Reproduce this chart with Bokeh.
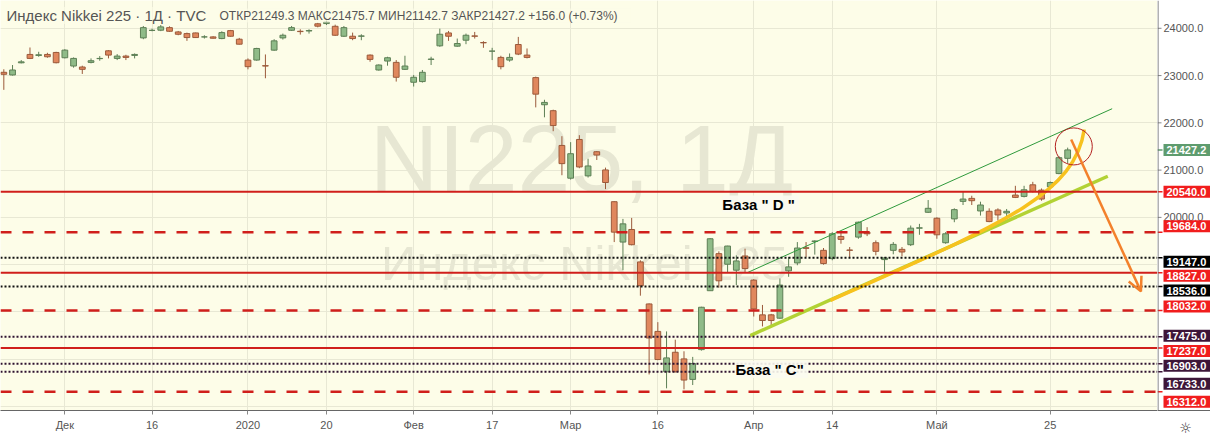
import numpy as np
from bokeh.plotting import figure
from bokeh.layouts import row
from bokeh.models import (Span, Label, FixedTicker, Arrow, OpenHead, ColumnDataSource, Range1d)
from bokeh.embed import file_html
from bokeh.resources import INLINE
from bokeh.core.properties import value

# ---------------- data ----------------
dates = [
    "2019-11-21", "2019-11-22", "2019-11-25", "2019-11-26", "2019-11-27", "2019-11-28", "2019-11-29",
    "2019-12-02", "2019-12-03", "2019-12-04", "2019-12-05", "2019-12-06", "2019-12-09", "2019-12-10",
    "2019-12-11", "2019-12-12", "2019-12-13", "2019-12-16", "2019-12-17", "2019-12-18", "2019-12-19",
    "2019-12-20", "2019-12-23", "2019-12-24", "2019-12-25", "2019-12-26", "2019-12-27", "2019-12-30",
    "2020-01-06", "2020-01-07", "2020-01-08", "2020-01-09", "2020-01-10", "2020-01-14", "2020-01-15",
    "2020-01-16", "2020-01-17", "2020-01-20", "2020-01-21", "2020-01-22", "2020-01-23", "2020-01-24",
    "2020-01-27", "2020-01-28", "2020-01-29", "2020-01-30", "2020-01-31", "2020-02-03", "2020-02-04",
    "2020-02-05", "2020-02-06", "2020-02-07", "2020-02-10", "2020-02-12", "2020-02-13", "2020-02-14",
    "2020-02-17", "2020-02-18", "2020-02-19", "2020-02-20", "2020-02-21", "2020-02-25", "2020-02-26",
    "2020-02-27", "2020-02-28", "2020-03-02", "2020-03-03", "2020-03-04", "2020-03-05", "2020-03-06",
    "2020-03-09", "2020-03-10", "2020-03-11", "2020-03-12", "2020-03-13", "2020-03-16", "2020-03-17",
    "2020-03-18", "2020-03-19", "2020-03-23", "2020-03-24", "2020-03-25", "2020-03-26", "2020-03-27",
    "2020-03-30", "2020-03-31", "2020-04-01", "2020-04-02", "2020-04-03", "2020-04-06", "2020-04-07",
    "2020-04-08", "2020-04-09", "2020-04-10", "2020-04-13", "2020-04-14", "2020-04-15", "2020-04-16",
    "2020-04-17", "2020-04-20", "2020-04-21", "2020-04-22", "2020-04-23", "2020-04-24", "2020-04-27",
    "2020-04-28", "2020-04-30", "2020-05-01", "2020-05-07", "2020-05-08", "2020-05-11", "2020-05-12",
    "2020-05-13", "2020-05-14", "2020-05-15", "2020-05-18", "2020-05-19", "2020-05-20", "2020-05-21",
    "2020-05-22", "2020-05-25", "2020-05-26", "2020-05-27",
]

opens = [
    23069, 23013, 23270, 23447, 23426, 23447, 23489, 23377, 23202, 23181, 23279, 23358, 23524, 23363,
    23412, 23426, 23797, 23955, 23960, 24014, 23923, 23888, 23902, 23818, 23818, 23783, 23951, 23769,
    23328, 23328, 23209, 23538, 23797, 23958, 23937, 23944, 24095, 24100, 24042, 23832, 23832, 23832,
    23433, 23118, 23307, 23279, 23132, 22859, 22873, 23342, 23629, 23902, 23622, 23748, 23839, 23699,
    23517, 23384, 23328, 23657, 23433, 22957, 22383, 22257, 21522, 20829, 21648, 20878, 21389, 21004,
    20332, 19478, 19744, 19058, 18169, 17588, 16734, 17147, 17007, 16573, 17203, 18449, 19233, 19009,
    18883, 19184, 18673, 17938, 17938, 17868, 18869, 19037, 19358, 19492, 19303, 19128, 19597, 19310,
    19583, 19688, 19464, 19107, 19303, 19324, 19422, 19772, 20108, 19982, 19464, 19968, 20339, 20402,
    20136, 20129, 20157, 20094, 20472, 20444, 20689, 20577, 20647, 20927, 21249.3,
]
highs = [
    23133, 23223, 23328, 23594, 23503, 23482, 23503, 23559, 23384, 23209, 23363, 23412, 23538, 23454,
    23440, 23468, 24049, 23993, 24070, 24042, 23944, 23909, 23909, 23853, 23832, 23937, 23965, 23797,
    23363, 23587, 23447, 23769, 23888, 24049, 23979, 23979, 24115, 24160, 24077, 24049, 23909, 23874,
    23447, 23237, 23398, 23328, 23419, 23013, 23118, 23398, 23993, 23944, 23783, 23888, 23923, 23727,
    23587, 23419, 23468, 23818, 23573, 22978, 22488, 22278, 21718, 21592, 21739, 21242, 21403, 21053,
    20340, 19968, 19989, 19093, 18180, 17784, 17588, 17413, 17168, 17049, 18110, 19562, 19282, 19400,
    19198, 19338, 18694, 18148, 17959, 18708, 19163, 19478, 19478, 19515, 19352, 19688, 19688, 19373,
    19912, 19793, 19513, 19163, 19478, 19373, 19828, 19863, 20367, 20003, 19688, 20192, 20542, 20458,
    20332, 20192, 20192, 20178, 20668, 20668, 20752, 20612, 20759, 21298, 21475.7,
]
lows = [
    22698, 23000, 23258, 23349, 23398, 23377, 23258, 23363, 23167, 23034, 23258, 23314, 23363, 23328,
    23328, 23363, 23769, 23937, 23940, 23923, 23853, 23734, 23797, 23783, 23783, 23769, 23825, 23657,
    23132, 23314, 22943, 23524, 23762, 23944, 23867, 23888, 24020, 24070, 23839, 23818, 23748, 23748,
    23293, 23104, 23209, 22873, 23118, 22768, 22852, 23223, 23608, 23734, 23608, 23664, 23783, 23587,
    23328, 23132, 23293, 23433, 23363, 22327, 22117, 21823, 20892, 20800, 21040, 20843, 21214, 20598,
    19478, 18883, 19408, 18344, 16678, 16980, 16384, 16720, 16363, 16454, 17182, 18449, 18512, 18834,
    18568, 18834, 17903, 17693, 17672, 17854, 18743, 18988, 19163, 19212, 19000, 19093, 19443, 19163,
    19548, 19604, 19198, 18848, 19219, 19177, 19394, 19632, 20094, 19548, 19443, 19898, 20262, 20262,
    20038, 19898, 19933, 20024, 20409, 20423, 20528, 20353, 20633, 20913, 21142.7,
]
closes = [
    23027, 23118, 23290, 23363, 23440, 23398, 23272, 23538, 23363, 23132, 23314, 23363, 23433, 23412,
    23384, 23447, 24014, 23958, 24030, 23937, 23874, 23804, 23804, 23818, 23790, 23909, 23832, 23664,
    23188, 23573, 23202, 23734, 23853, 24014, 23930, 23951, 24045, 24130, 23853, 24014, 23783, 23839,
    23342, 23223, 23377, 22964, 23202, 22964, 23069, 23349, 23874, 23832, 23678, 23853, 23832, 23692,
    23517, 23188, 23384, 23454, 23384, 22607, 22432, 21942, 21137, 21347, 21067, 21088, 21319, 20738,
    19688, 19863, 19422, 18554, 17448, 16993, 17028, 16734, 16559, 16909, 18099, 19548, 18659, 19394,
    19079, 18918, 18064, 17819, 17819, 18568, 18953, 19352, 19345, 19500, 19023, 19653, 19534, 19303,
    19898, 19653, 19282, 19142, 19429, 19268, 19772, 19779, 20192, 19632, 19653, 20164, 20388, 20353,
    20262, 19912, 20052, 20129, 20423, 20584, 20549, 20388, 20738, 21263, 21427.2,
]

tick_dates = ["2019-12-02", "2019-12-16", "2020-01-06", "2020-01-20", "2020-02-03", "2020-02-17",
              "2020-03-02", "2020-03-16", "2020-04-01", "2020-04-14", "2020-05-01", "2020-05-25"]
tick_labels = ["Дек", "16", "2020", "20", "Фев", "17", "Мар", "16", "Апр", "14", "Май", "25"]
price_ticks = [20000, 21000, 22000, 23000, 24000]
grid_prices = [16000, 17000, 18000, 19000, 20000, 21000, 22000, 23000, 24000]

# horizontal support / resistance levels drawn on the chart
level_prices = [20540, 19684, 19147, 18827, 18536, 18032, 17475, 17237, 16903, 16733, 16312]
level_kinds = ["solid", "dashed", "dotted", "solid", "dotted", "dashed", "dotted", "solid",
               "dotted", "dotted", "dashed"]
level_groups = ["red", "red", "black", "red", "black", "red", "purple", "red", "purple", "purple", "red"]
# vertical nudges of the price-scale tags (px, down positive) so they do not overlap
level_tag_nudge = [0, -6, 4, 3, 4, -4, -1, 3, 2, 12, 10]

last_price = 21427.2

# hand-drawn annotations, in (bar index, price)
channel_top_x = [85.3, 127.1]
channel_top_y = [18834, 22299]
trend_x = [85.6, 126.6]
trend_y = [17500, 20870]
curve_pts = dict(x0=94.8, y0=18246, cx0=114.3, cy0=19842, cx1=122.8, cy1=20472, x1=123.9, y1=21858)
arrow_pts = dict(x_start=122.4, y_start=21648, x_end=130.4, y_end=18435)
circle_x = [122.7]
circle_y = [21501]
note_texts = ['База  " D "', 'База  " C"']
note_x = [82.4, 83.9]
note_y = [20283, 16782]

# ---------------- main chart ----------------
FONT = "Liberation Sans"
H = 438
BOTTOM = 25
MAIN_W, SCALE_W = 1157, 53
yr = Range1d(15915, 24588)

p = figure(width=MAIN_W, height=H, output_backend="svg", toolbar_location=None,
           x_range=(-0.38, 132.3), y_range=yr, y_axis_location=None,
           min_border_left=0, min_border_top=0, min_border_right=0, min_border_bottom=BOTTOM)
p.background_fill_color = "#fdfde8"
p.border_fill_color = "white"
p.outline_line_color = None

idx = {d: i for i, d in enumerate(dates)}
p.xaxis.ticker = FixedTicker(ticks=[idx[d] for d in tick_dates])
p.xaxis.major_label_overrides = {idx[d]: lab for d, lab in zip(tick_dates, tick_labels)}
p.xaxis.axis_line_color = "#666666"
p.xaxis.major_tick_line_color = "#888888"
p.xaxis.major_tick_out = 4
p.xaxis.major_tick_in = 0
p.xaxis.minor_tick_line_color = None
p.xaxis.major_label_text_color = "#555555"
p.xaxis.major_label_text_font = FONT
p.xaxis.major_label_text_font_size = "11px"
p.xaxis.major_label_standoff = 4
p.xgrid.grid_line_color = "#e8e8d4"
p.ygrid.grid_line_color = "#e8e8d4"
p.ygrid.ticker = FixedTicker(ticks=grid_prices)

# watermark
p.add_layout(Label(x=581, y=253, x_units="screen", y_units="screen", text="NI225, 1Д",
                   text_align="center", text_baseline="middle", text_font=FONT,
                   text_font_size="95px", text_color="#e7e7d3", level="underlay"))
p.add_layout(Label(x=584, y=148, x_units="screen", y_units="screen", text="Индекс Nikkei 225",
                   text_align="center", text_baseline="middle", text_font=FONT,
                   text_font_size="49px", text_color="#e7e7d3", level="underlay"))

# candles
o = np.array(opens, float); c = np.array(closes, float)
hi = np.array(highs, float); lo = np.array(lows, float)
up = c >= o
src = ColumnDataSource(dict(
    x=np.arange(len(dates)), top=np.maximum(o, c), bottom=np.minimum(o, c), high=hi, low=lo,
    fill=np.where(up, "#8fbb88", "#e0875d"), line=np.where(up, "#5d7f55", "#9b5a3b"),
))
p.segment(x0="x", y0="high", x1="x", y1="low", line_color="line", line_width=1, source=src)
p.vbar(x="x", width=0.66, top="top", bottom="bottom", fill_color="fill", line_color="line",
       line_width=1, source=src)

# levels
line_col = {"red": "#d01f1b", "black": "#111111", "purple": "#2e1230"}
tag_col = {"red": "#f11d1d", "black": "#000000", "purple": "#3d1538"}
dash = {"solid": "solid", "dashed": "11 11", "dotted": "2 2"}
lw = {"solid": 2, "dashed": 2.5, "dotted": 2}
for lv, kind, grp in zip(level_prices, level_kinds, level_groups):
    p.add_layout(Span(location=lv, dimension="width", line_color=line_col[grp],
                      line_dash=dash[kind], line_width=lw[kind]))

# drawings
p.line(channel_top_x, channel_top_y, line_color="#2f9a3c", line_width=1)
p.line(trend_x, trend_y, line_color="#b2d234", line_width=3.5)
p.bezier(line_color="#f7c21e", line_width=3.5, **curve_pts)
p.add_layout(Arrow(end=OpenHead(size=14, line_color="#f3812b", line_width=2.5),
                   line_color="#f3812b", line_width=2.5, **arrow_pts))
p.scatter(circle_x, circle_y, marker="circle", size=37, fill_alpha=0,
          line_color="#b3201f", line_width=1)
for t, xx, yy in zip(note_texts, note_x, note_y):
    p.add_layout(Label(x=xx, y=yy, text=t, text_font=FONT, text_font_size="15px",
                       text_font_style="bold", text_color="black", text_baseline="middle",
                       background_fill_color="#fbfbef", background_fill_alpha=0.9))

# legend / header
p.add_layout(Label(x=6, y=395, x_units="screen", y_units="screen",
                   text="Индекс Nikkei 225 · 1Д · TVC", text_font=FONT, text_font_size="15px",
                   text_color="#555555", text_baseline="middle",
                   background_fill_color="#fdfde8", background_fill_alpha=0.6))
p.add_layout(Label(x=219, y=395, x_units="screen", y_units="screen",
                   text="ОТКР21249.3  МАКС21475.7  МИН21142.7  ЗАКР21427.2  +156.0 (+0.73%)",
                   text_font=FONT, text_font_size="12px", text_color="#555555",
                   text_baseline="middle",
                   background_fill_color="#fdfde8", background_fill_alpha=0.6))

# ---------------- price scale (right) ----------------
s = figure(width=SCALE_W, height=H, output_backend="svg", toolbar_location=None,
           x_range=(0, SCALE_W), y_range=yr, y_axis_location=None,
           min_border_left=0, min_border_top=0, min_border_right=0, min_border_bottom=BOTTOM)
s.background_fill_color = "white"
s.border_fill_color = "white"
s.outline_line_color = None
s.grid.visible = False
s.xaxis.ticker = FixedTicker(ticks=[28])
s.xaxis.major_label_overrides = {28: "☼"}
s.xaxis.axis_line_color = "#666666"
s.xaxis.major_tick_line_color = None
s.xaxis.minor_tick_line_color = None
s.xaxis.major_label_text_font = "DejaVu Sans"
s.xaxis.major_label_text_font_size = "14px"
s.xaxis.major_label_text_color = "#333333"
s.xaxis.major_label_standoff = 3

s.add_layout(Span(location=0.5, dimension="height", line_color="#666666", line_width=1))
s.segment(x0=[0] * len(price_ticks), x1=[4] * len(price_ticks), y0=price_ticks, y1=price_ticks,
          line_color="#888888", line_width=1)
s.text(x=[6] * len(price_ticks), y=price_ticks, text=[f"{v:.1f}" for v in price_ticks],
       text_font=value(FONT), text_font_size="11px", text_color="#555555",
       text_baseline="middle", text_align="left")


def tag(price, color, nudge=0):
    s.segment(x0=[0], x1=[5], y0=[price], y1=[price], line_color=color, line_width=1.5)
    s.add_layout(Label(x=6, y=price, y_offset=-nudge, text=f"{price:.1f}",
                       text_align="left", text_baseline="middle", text_font=FONT,
                       text_font_size="11px", text_font_style="bold", text_color="white",
                       background_fill_color=color,
                       padding=dict(left=3, right=5, top=2, bottom=2)))


tag(last_price, "#5e9c6e")
for lv, grp, nd in zip(level_prices, level_groups, level_tag_nudge):
    tag(lv, tag_col[grp], nd)

layout = row(p, s, spacing=0)
open("out.html", "w").write(file_html(layout, INLINE))
